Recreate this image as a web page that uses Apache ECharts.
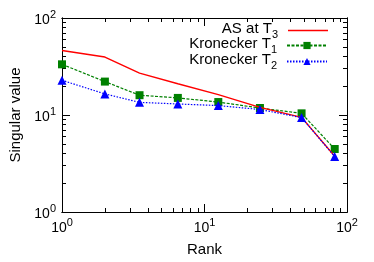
<!DOCTYPE html>
<html>
<head>
<meta charset="utf-8">
<script src="https://cdn.jsdelivr.net/npm/echarts@6/dist/echarts.min.js"></script>
<style>
  html, body { margin: 0; padding: 0; background: #fff; }
  #chart { width: 374px; height: 262px; }
</style>
</head>
<body>
<div id="chart"></div>
<script>
// rank positions and singular values
const ranks = [1, 2, 3.5, 6.5, 12.5, 24.5, 48, 82];
const asT3 = [46.3, 39.6, 27, 21, 16.2, 12.0, 9.45, 3.75];
const kronT1 = [33.3, 22.1, 16.0, 15.0, 13.6, 11.8, 10.4, 4.46];
const kronT2 = [22.8, 16.5, 13.5, 13.0, 12.5, 11.4, 9.4, 3.73];
const majorTicks = [1, 10, 100];
const minorTicks = [2, 3, 4, 5, 6, 7, 8, 9, 20, 30, 40, 50, 60, 70, 80, 90];

const font = 'Liberation Sans';
const chart = echarts.init(document.getElementById('chart'));

const pairs = (ys) => ranks.map((x, i) => [x, ys[i]]);

const powLabel = (v) => '{b|10}{e|' + Math.round(Math.log10(v)) + '}';
const labelRich = {
  b: { fontFamily: font, fontSize: 14, color: '#000', verticalAlign: 'bottom', lineHeight: 18 },
  e: { fontFamily: font, fontSize: 11, color: '#000', verticalAlign: 'top', lineHeight: 18 }
};

const baseAxis = {
  type: 'log',
  logBase: 10,
  min: 1,
  max: 100,
  axisLine: { show: true, lineStyle: { color: '#000', width: 1 } },
  splitLine: { show: false },
  minorTick: { show: false }
};

const majorAxis = (extra) => Object.assign({}, baseAxis, {
  axisTick: { show: true, inside: true, length: 8, customValues: majorTicks, lineStyle: { color: '#000' } }
}, extra);

const minorAxis = (extra) => Object.assign({}, baseAxis, {
  axisLabel: { show: false },
  axisTick: { show: true, inside: true, length: 4, customValues: minorTicks, lineStyle: { color: '#000' } }
}, extra);

const legendRich = {
  n: { fontFamily: font, fontSize: 15, color: '#000', verticalAlign: 'top', lineHeight: 19 },
  s: { fontFamily: font, fontSize: 11, color: '#000', verticalAlign: 'bottom', lineHeight: 19 }
};
const legendNames = {
  'AS at T3': '{n|AS at T}{s|3}',
  'Kronecker T1': '{n|Kronecker T}{s|1}',
  'Kronecker T2': '{n|Kronecker T}{s|2}'
};
const makeLegend = (name, top, extra) => Object.assign({
  data: [name],
  right: 46,
  top: top,
  align: 'right',
  itemWidth: 40,
  itemHeight: 9,
  padding: 0,
  selectedMode: false,
  formatter: (n) => legendNames[n],
  textStyle: { rich: legendRich, padding: [0, 5, 0, 0] }
}, extra);

chart.setOption({
  animation: false,
  backgroundColor: '#fff',
  grid: { left: 61, right: 27, top: 18, bottom: 47 },
  legend: [
    makeLegend('AS at T3', 21, { icon: 'rect', itemHeight: 1.5 }),
    makeLegend('Kronecker T1', 36),
    makeLegend('Kronecker T2', 52)
  ],
  xAxis: [
    majorAxis({
      position: 'bottom',
      name: 'Rank',
      nameLocation: 'middle',
      nameGap: 30,
      nameTextStyle: { fontFamily: font, fontSize: 15, color: '#000' },
      axisLabel: { show: true, margin: 5, formatter: powLabel, rich: labelRich }
    }),
    majorAxis({ position: 'top', axisLabel: { show: false } }),
    minorAxis({ position: 'top' }),
    minorAxis({ position: 'bottom' })
  ],
  yAxis: [
    majorAxis({
      position: 'left',
      name: 'Singular value',
      nameLocation: 'middle',
      nameGap: 39,
      nameTextStyle: { fontFamily: font, fontSize: 15, color: '#000' },
      axisLabel: { show: true, margin: 6, formatter: powLabel, rich: labelRich }
    }),
    majorAxis({ position: 'right', axisLabel: { show: false } }),
    minorAxis({ position: 'right' }),
    minorAxis({ position: 'left' })
  ],
  series: [
    {
      name: 'AS at T3',
      type: 'line',
      data: pairs(asT3),
      symbol: 'none',
      lineStyle: { color: '#ff0000', width: 1.4 },
      itemStyle: { color: '#ff0000' },
      z: 3
    },
    {
      name: 'Kronecker T1',
      type: 'line',
      data: pairs(kronT1),
      symbol: 'rect',
      symbolSize: 8,
      lineStyle: { color: '#008000', width: 1.2, type: [3, 1.5] },
      itemStyle: { color: '#008000' },
      z: 2
    },
    {
      name: 'Kronecker T2',
      type: 'line',
      data: pairs(kronT2),
      symbol: 'triangle',
      symbolSize: 9,
      lineStyle: { color: '#0000ff', width: 1.2, type: [1.5, 1.5] },
      itemStyle: { color: '#0000ff' },
      z: 4
    }
  ]
});
</script>
</body>
</html>
